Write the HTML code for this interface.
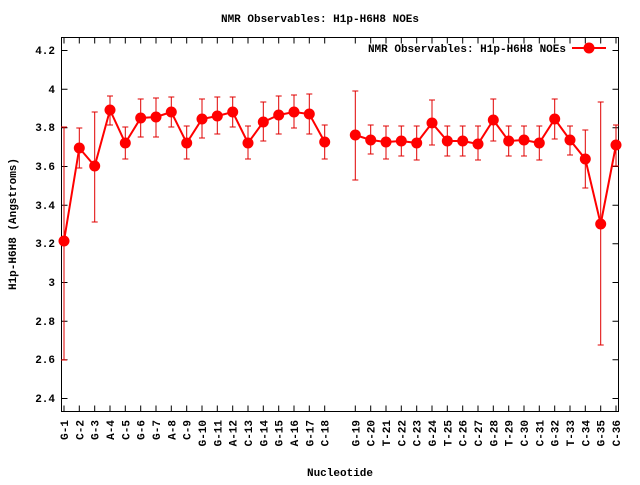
<!DOCTYPE html>
<html><head><meta charset="utf-8"><style>
html,body{margin:0;padding:0;background:#fff;}
svg text{font-family:"Liberation Mono","DejaVu Sans Mono",monospace;font-weight:bold;font-size:11px;fill:#000;}
</style></head><body>
<svg width="640" height="480" viewBox="0 0 640 480" xmlns="http://www.w3.org/2000/svg">
<rect width="640" height="480" fill="#fff"/>
<text x="320" y="22" text-anchor="middle">NMR Observables: H1p-H6H8 NOEs</text>
<text x="340" y="476" text-anchor="middle">Nucleotide</text>
<text transform="translate(16,224) rotate(-90)" text-anchor="middle">H1p-H6H8 (Angstroms)</text>
<rect x="61.5" y="37.5" width="557" height="374" fill="none" stroke="#000" stroke-width="1"/>
<g stroke="#000" stroke-width="1">
<path d="M61.5 398.5h6M618.5 398.5h-6M61.5 359.8h6M618.5 359.8h-6M61.5 321.2h6M618.5 321.2h-6M61.5 282.5h6M618.5 282.5h-6M61.5 243.8h6M618.5 243.8h-6M61.5 205.2h6M618.5 205.2h-6M61.5 166.5h6M618.5 166.5h-6M61.5 127.8h6M618.5 127.8h-6M61.5 89.2h6M618.5 89.2h-6M61.5 50.5h6M618.5 50.5h-6"/>
<path id="xt" d="M64 411.5v-6M64 37.5v6M79.3 411.5v-6M79.3 37.5v6M94.7 411.5v-6M94.7 37.5v6M110 411.5v-6M110 37.5v6M125.3 411.5v-6M125.3 37.5v6M140.7 411.5v-6M140.7 37.5v6M156 411.5v-6M156 37.5v6M171.3 411.5v-6M171.3 37.5v6M186.7 411.5v-6M186.7 37.5v6M202 411.5v-6M202 37.5v6M217.3 411.5v-6M217.3 37.5v6M232.7 411.5v-6M232.7 37.5v6M248 411.5v-6M248 37.5v6M263.3 411.5v-6M263.3 37.5v6M278.7 411.5v-6M278.7 37.5v6M294 411.5v-6M294 37.5v6M309.3 411.5v-6M309.3 37.5v6M324.7 411.5v-6M324.7 37.5v6M355.3 411.5v-6M355.3 37.5v6M370.7 411.5v-6M370.7 37.5v6M386 411.5v-6M386 37.5v6M401.3 411.5v-6M401.3 37.5v6M416.7 411.5v-6M416.7 37.5v6M432 411.5v-6M432 37.5v6M447.3 411.5v-6M447.3 37.5v6M462.7 411.5v-6M462.7 37.5v6M478 411.5v-6M478 37.5v6M493.3 411.5v-6M493.3 37.5v6M508.7 411.5v-6M508.7 37.5v6M524 411.5v-6M524 37.5v6M539.3 411.5v-6M539.3 37.5v6M554.7 411.5v-6M554.7 37.5v6M570 411.5v-6M570 37.5v6M585.3 411.5v-6M585.3 37.5v6M600.7 411.5v-6M600.7 37.5v6M616 411.5v-6M616 37.5v6"/>
</g>
<g text-anchor="end">
<text x="55" y="402">2.4</text><text x="55" y="363">2.6</text><text x="55" y="325">2.8</text><text x="55" y="286">3</text><text x="55" y="247">3.2</text><text x="55" y="209">3.4</text><text x="55" y="170">3.6</text><text x="55" y="131">3.8</text><text x="55" y="93">4</text><text x="55" y="54">4.2</text>
</g>
<g text-anchor="end">
<text transform="translate(68,420) rotate(-90)">G-1</text>
<text transform="translate(83.3,420) rotate(-90)">C-2</text>
<text transform="translate(98.7,420) rotate(-90)">G-3</text>
<text transform="translate(114,420) rotate(-90)">A-4</text>
<text transform="translate(129.3,420) rotate(-90)">C-5</text>
<text transform="translate(144.7,420) rotate(-90)">G-6</text>
<text transform="translate(160,420) rotate(-90)">G-7</text>
<text transform="translate(175.3,420) rotate(-90)">A-8</text>
<text transform="translate(190.7,420) rotate(-90)">C-9</text>
<text transform="translate(206,420) rotate(-90)">G-10</text>
<text transform="translate(221.3,420) rotate(-90)">G-11</text>
<text transform="translate(236.7,420) rotate(-90)">A-12</text>
<text transform="translate(252,420) rotate(-90)">C-13</text>
<text transform="translate(267.3,420) rotate(-90)">G-14</text>
<text transform="translate(282.7,420) rotate(-90)">G-15</text>
<text transform="translate(298,420) rotate(-90)">A-16</text>
<text transform="translate(313.3,420) rotate(-90)">G-17</text>
<text transform="translate(328.7,420) rotate(-90)">C-18</text>
<text transform="translate(359.3,420) rotate(-90)">G-19</text>
<text transform="translate(374.7,420) rotate(-90)">C-20</text>
<text transform="translate(390,420) rotate(-90)">T-21</text>
<text transform="translate(405.3,420) rotate(-90)">C-22</text>
<text transform="translate(420.7,420) rotate(-90)">C-23</text>
<text transform="translate(436,420) rotate(-90)">G-24</text>
<text transform="translate(451.3,420) rotate(-90)">T-25</text>
<text transform="translate(466.7,420) rotate(-90)">C-26</text>
<text transform="translate(482,420) rotate(-90)">C-27</text>
<text transform="translate(497.3,420) rotate(-90)">G-28</text>
<text transform="translate(512.7,420) rotate(-90)">T-29</text>
<text transform="translate(528,420) rotate(-90)">C-30</text>
<text transform="translate(543.3,420) rotate(-90)">C-31</text>
<text transform="translate(558.7,420) rotate(-90)">G-32</text>
<text transform="translate(574,420) rotate(-90)">T-33</text>
<text transform="translate(589.3,420) rotate(-90)">C-34</text>
<text transform="translate(604.7,420) rotate(-90)">G-35</text>
<text transform="translate(620,420) rotate(-90)">C-36</text>
</g>
<g stroke="#e00000" stroke-width="1" fill="none">
<path d="M64 127v233M61 127h6M61 360h6
M79.3 128v40M76.3 128h6M76.3 168h6
M94.7 112v110M91.7 112h6M91.7 222h6
M110 96v29M107 96h6M107 125h6
M125.3 127v32M122.3 127h6M122.3 159h6
M140.7 99v38M137.7 99h6M137.7 137h6
M156 98v39M153 98h6M153 137h6
M171.3 97v30M168.3 97h6M168.3 127h6
M186.7 126v33M183.7 126h6M183.7 159h6
M202 99v39M199 99h6M199 138h6
M217.3 97v37M214.3 97h6M214.3 134h6
M232.7 97v30M229.7 97h6M229.7 127h6
M248 126v33M245 126h6M245 159h6
M263.3 102v39M260.3 102h6M260.3 141h6
M278.7 96v38M275.7 96h6M275.7 134h6
M294 95v33M291 95h6M291 128h6
M309.3 94v40M306.3 94h6M306.3 134h6
M324.7 125v34M321.7 125h6M321.7 159h6
M355.3 91v89M352.3 91h6M352.3 180h6
M370.7 125v29M367.7 125h6M367.7 154h6
M386 126v33M383 126h6M383 159h6
M401.3 126v30M398.3 126h6M398.3 156h6
M416.7 126v34M413.7 126h6M413.7 160h6
M432 100v45M429 100h6M429 145h6
M447.3 126v30M444.3 126h6M444.3 156h6
M462.7 126v30M459.7 126h6M459.7 156h6
M478 126v34M475 126h6M475 160h6
M493.3 99v42M490.3 99h6M490.3 141h6
M508.7 126v30M505.7 126h6M505.7 156h6
M524 126v30M521 126h6M521 156h6
M539.3 126v34M536.3 126h6M536.3 160h6
M554.7 99v40M551.7 99h6M551.7 139h6
M570 126v29M567 126h6M567 155h6
M585.3 130v58M582.3 130h6M582.3 188h6
M600.7 102v243M597.7 102h6M597.7 345h6
M616 125v41M613 125h6M613 166h6"/>
</g>
<g stroke="#ff0000" stroke-width="2" fill="none">
<polyline points="64,241 79.3,148 94.7,166 110,110 125.3,143 140.7,118 156,117 171.3,112 186.7,143 202,119 217.3,116 232.7,112 248,143 263.3,122 278.7,115 294,112 309.3,114 324.7,142"/>
<polyline points="355.3,135 370.7,140 386,142 401.3,141 416.7,143 432,123 447.3,141 462.7,141 478,144 493.3,120 508.7,141 524,140 539.3,143 554.7,119 570,140 585.3,159 600.7,224 616,145"/>
<path d="M572 48h34"/>
</g>
<g fill="#ff0000">
<circle cx="64" cy="241" r="5.5"/><circle cx="79.3" cy="148" r="5.5"/><circle cx="94.7" cy="166" r="5.5"/><circle cx="110" cy="110" r="5.5"/><circle cx="125.3" cy="143" r="5.5"/><circle cx="140.7" cy="118" r="5.5"/><circle cx="156" cy="117" r="5.5"/><circle cx="171.3" cy="112" r="5.5"/><circle cx="186.7" cy="143" r="5.5"/><circle cx="202" cy="119" r="5.5"/><circle cx="217.3" cy="116" r="5.5"/><circle cx="232.7" cy="112" r="5.5"/><circle cx="248" cy="143" r="5.5"/><circle cx="263.3" cy="122" r="5.5"/><circle cx="278.7" cy="115" r="5.5"/><circle cx="294" cy="112" r="5.5"/><circle cx="309.3" cy="114" r="5.5"/><circle cx="324.7" cy="142" r="5.5"/>
<circle cx="355.3" cy="135" r="5.5"/><circle cx="370.7" cy="140" r="5.5"/><circle cx="386" cy="142" r="5.5"/><circle cx="401.3" cy="141" r="5.5"/><circle cx="416.7" cy="143" r="5.5"/><circle cx="432" cy="123" r="5.5"/><circle cx="447.3" cy="141" r="5.5"/><circle cx="462.7" cy="141" r="5.5"/><circle cx="478" cy="144" r="5.5"/><circle cx="493.3" cy="120" r="5.5"/><circle cx="508.7" cy="141" r="5.5"/><circle cx="524" cy="140" r="5.5"/><circle cx="539.3" cy="143" r="5.5"/><circle cx="554.7" cy="119" r="5.5"/><circle cx="570" cy="140" r="5.5"/><circle cx="585.3" cy="159" r="5.5"/><circle cx="600.7" cy="224" r="5.5"/><circle cx="616" cy="145" r="5.5"/>
<circle cx="589" cy="48" r="5.5"/>
</g>
<text x="566" y="52" text-anchor="end">NMR Observables: H1p-H6H8 NOEs</text>
</svg>
</body></html>
